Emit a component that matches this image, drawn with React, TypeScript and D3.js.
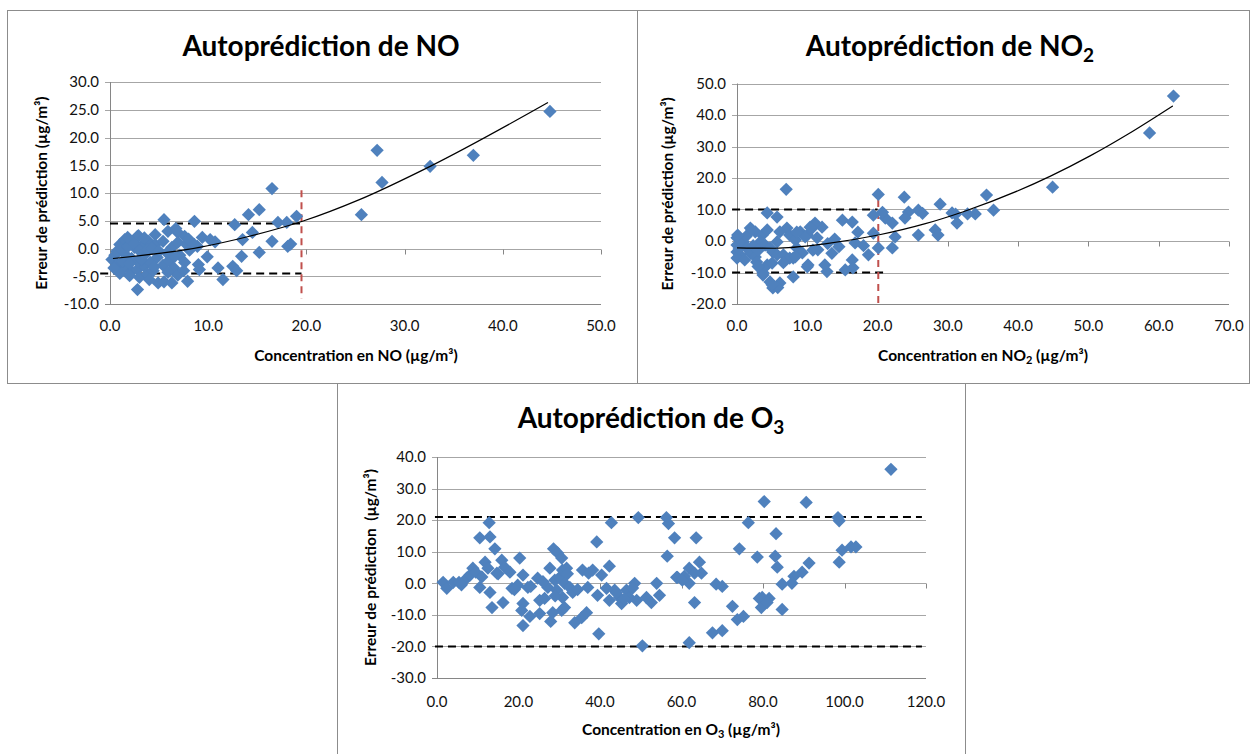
import React from "react";
import * as d3 from "d3";

// ---------- DATA ----------
const noPoints: [number, number][] = [
  [0.2, -2.0], [0.5, -1.2], [0.7, -0.5], [1.0, 0.7], [1.5, 1.6], [2.0, 0.7], [2.5, 0.2], [3.3, 0.7], [3.9, 1.3],
  [2.8, 2.2], [4.6, 2.5], [5.9, 3.1], [6.9, 2.9], [5.5, 5.2], [8.6, 4.9], [4.6, 0.7], [5.4, 1.3], [6.3, 0.2],
  [6.9, 1.1], [7.8, 0.7], [8.3, 0.2], [8.9, 0.4], [0.8, -2.9], [1.5, -3.4], [2.2, -4.1], [2.8, -3.8], [3.5, -3.2],
  [1.5, -1.0], [2.2, -1.8], [2.8, -2.3], [3.6, -1.0], [4.1, -2.5], [4.8, -1.6], [5.4, -3.0], [6.0, -2.2],
  [2.8, -7.4], [4.9, -6.2], [5.5, -6.0], [6.3, -6.2], [7.9, -5.9], [1.0, -4.5], [2.0, -4.9], [3.0, -5.2],
  [3.8, -4.6], [4.4, -4.0], [6.5, -3.5], [7.1, -1.2], [7.6, -2.5], [8.1, -0.3], [9.0, -2.9], [9.1, -3.8],
  [9.9, -1.5], [1.2, -0.2], [1.8, 0.3], [2.4, 1.0], [3.0, -0.4], [3.8, -0.2], [4.3, 0.0], [5.0, -0.5],
  [5.8, -0.8], [6.6, -1.4], [1.3, -2.3], [2.0, -2.7], [3.2, -2.0], [4.5, -3.3], [5.9, -4.3], [6.9, -4.8],
  [7.5, -4.0], [2.9, 2.3], [3.5, 1.9], [6.7, 3.6], [7.6, 2.2], [8.0, 1.7], [9.4, 2.0], [8.6, 0.7], [10.7, 1.2],
  [11.0, -3.5], [11.5, -5.6], [12.5, -3.2], [13.4, -1.4], [13.5, 1.6], [14.5, 2.9], [14.1, 6.1], [15.2, 7.0],
  [16.5, 10.8], [12.7, 4.3], [17.1, 4.7], [18.0, 4.7], [19.0, 5.8], [16.5, 1.3], [18.1, 0.4], [15.2, -0.7],
  [18.4, 0.8], [12.9, -4.0], [10.2, 1.6], [4.0, -5.6], [1.8, 2.0], [0.4, -3.5],
  [25.6, 6.1], [27.2, 17.7], [27.7, 11.9], [32.6, 14.8], [37.0, 16.8], [44.8, 24.7],
];

const noTrend: [number, number][] = [
  [0.3, -1.8], [9.1, 0.2], [14.2, 2.2], [19.6, 4.9], [25.4, 8.8], [32.6, 14.8], [44.6, 26.3],
];

const no2Points: [number, number][] = [
  [4.3, 8.9], [5.7, 7.6], [1.9, 4.1], [2.6, 2.9], [3.6, 1.9], [4.3, 3.5], [0, 1.0], [0, -1.3], [0, -3.5],
  [0.4, -4.4], [0, -5.4], [0.9, -0.3], [1.4, -2.2], [1.9, -3.8], [2.6, -5.1], [1.1, -6.0], [3.3, -0.3],
  [4.0, -1.3], [4.7, -2.2], [5.1, -3.5], [5.7, -4.4], [2.8, -6.7], [4.3, -7.6], [5.0, -7.0], [7.1, 4.1],
  [7.5, 1.9], [8.3, 0.3], [9.0, 2.9], [8.5, -2.2], [9.3, -3.8], [8.0, -5.4], [10.0, 1.9], [10.7, 4.1],
  [11.4, 1.0], [10.8, -2.9], [10.1, -7.6], [5.7, -0.3], [6.1, 2.9], [6.6, -4.4], [7.5, -5.4], [3.7, -10.8],
  [4.7, -13.0], [5.1, -14.9], [6.1, -13.3], [8.0, -11.4], [0.3, -2.5], [0.6, 0.3], [1.3, 1.5], [2.3, -1.5],
  [3.0, -3.0], [13.9, 0.6], [14.5, -1.8], [12.9, -0.8], [18.0, -1.5],
  [7.0, 16.4], [20.1, 14.8], [23.8, 13.9], [28.9, 11.7], [31.1, 8.5], [25.8, 9.8], [26.4, 8.8], [24.4, 9.2],
  [23.9, 7.3], [25.8, 1.9], [28.2, 3.5], [28.6, 1.9], [22.1, 5.7], [21.1, 7.3], [20.7, 9.1], [19.4, 8.2],
  [22.1, -2.2], [20.1, -2.2], [18.7, -4.4], [19.4, 2.5], [22.5, 1.3], [16.8, -0.6], [15.0, 6.6], [16.4, 6.0],
  [17.2, 2.8], [16.4, -6.0], [16.5, -8.5], [15.4, -9.2], [12.8, -9.7], [12.5, -7.6], [13.5, -3.9], [11.5, -2.8],
  [12.1, 4.4], [11.1, 5.7], [10.4, 4.4], [9.7, 1.3], [8.5, 2.8], [10.0, -8.2], [8.3, -5.0], [5.8, -14.8],
  [5.0, -13.9], [3.7, -10.1], [2.1, 3.5], [0.1, 1.9], [6.6, -6.9], [3.0, -8.1],
  [62.1, 46.0], [58.7, 34.3], [44.9, 17.1], [35.5, 14.6], [36.5, 9.8], [33.9, 8.6], [32.8, 8.6], [31.3, 5.7],
  [30.6, 8.9],
];

const no2Trend: [number, number][] = [
  [0, -2.2], [5.4, -2.3], [12.5, -0.9], [20.1, 1.9], [26.8, 5.5], [32.2, 9.3], [44.6, 20.6], [50.3, 27.1],
  [55.6, 33.9], [62.0, 42.9],
];

const o3Points: [number, number][] = [
  [1.5, 0.3], [2.4, -1.6], [4.0, 0.3], [5.4, 0.3], [7.3, 1.6], [8.1, 2.6], [8.8, 4.8], [10.5, 14.4],
  [12.8, 19.2], [13.0, 14.7], [14.2, 10.9], [11.8, 6.7], [12.5, 4.8], [13.5, -7.7], [13.0, -2.9], [10.5, -1.3],
  [14.7, 3.2], [15.9, 7.3], [16.6, 5.1], [17.9, 3.5], [16.2, -6.1], [18.4, -1.6], [20.3, 8.0], [19.8, -0.6],
  [21.1, 2.6], [21.1, -6.4], [20.8, -8.6], [22.8, -10.5], [21.1, -13.4], [22.3, -1.3], [24.7, 1.6], [25.2, -9.6],
  [25.2, -5.4], [27.7, 4.8], [27.9, -12.1], [26.4, -4.8], [27.2, -1.3], [28.6, 10.9], [29.6, 9.6], [30.6, 8.0],
  [28.9, 1.0], [30.1, 1.9], [30.8, 4.2], [31.8, 4.8], [31.3, 0], [30.8, -4.5], [30.6, -8.6], [31.3, -7.7],
  [28.4, -9.3], [29.4, -2.2], [32.6, -1.3], [33.3, -2.9], [33.8, -12.5], [35.5, -10.9], [36.7, -9.3],
  [35.7, 4.2], [37.2, 3.2], [37.0, -1.3], [38.2, 4.2], [39.2, 13.1], [40.4, 2.6], [39.7, -16.0], [39.4, -3.8],
  [42.3, 5.4], [42.8, 19.2], [41.6, -1.6], [42.3, -5.4], [43.6, -2.2], [44.8, -4.5], [45.3, -6.4], [46.5, -2.2],
  [47.2, -4.5], [48.5, 0], [49.0, -5.4], [49.4, 20.8], [50.4, -19.8], [51.4, -4.5], [52.6, -6.1], [53.9, 0],
  [54.6, -3.8], [56.3, 20.8], [56.8, 18.9], [58.3, 14.4], [56.5, 8.6], [58.8, 1.9],
  [111.4, 36.1], [80.3, 25.9], [90.6, 25.6], [98.4, 20.8], [98.7, 19.8], [76.4, 19.2], [83.2, 15.7],
  [74.2, 10.9], [63.6, 14.4], [78.6, 8.3], [83.0, 8.6], [83.5, 5.1], [91.3, 6.4], [89.6, 3.5], [87.6, 2.2],
  [87.1, 0], [84.7, -0.3], [99.4, 10.5], [98.7, 6.7], [101.6, 11.5], [102.8, 11.5], [61.9, 4.8], [64.4, 6.7],
  [64.9, 3.2], [63.2, 3.2], [60.7, 2.2], [59.0, 1.9], [61.9, 0], [60.2, 1.0], [68.5, -0.3], [70.0, -1.0],
  [63.2, -6.1], [72.5, -7.3], [61.9, -18.8], [67.6, -15.7], [70.0, -15.0], [73.7, -11.5], [75.2, -10.5],
  [79.1, -4.8], [79.8, -4.5], [81.5, -4.8], [79.6, -7.7], [81.0, -6.1], [84.7, -8.3],
  [6.0, -0.5], [9.5, 3.5], [11.0, 2.0], [15.0, 3.0], [19.0, -2.0], [23.0, -1.0], [26.0, 0.5], [29.0, -4.0],
  [32.0, 3.0], [34.5, -2.0], [44.0, -3.0], [46.0, -5.0], [48.0, -1.5],
];

const noXTicks = [0, 10, 20, 30, 40, 50];
const noYTicks = [-10, -5, 0, 5, 10, 15, 20, 25, 30];
const no2XTicks = [0, 10, 20, 30, 40, 50, 60, 70];
const no2YTicks = [-20, -10, 0, 10, 20, 30, 40, 50];
const o3XTicks = [0, 20, 40, 60, 80, 100, 120];
const o3YTicks = [-30, -20, -10, 0, 10, 20, 30, 40];

// reference lines: [y, xStart, xEnd]
const noLimits: [number, number, number][] = [[4.5, 0, 19.5], [-4.5, -1, 19.5]];
const no2Limits: [number, number, number][] = [[10, -0.7, 20], [-10, -0.7, 21.2]];
const o3Limits: [number, number, number][] = [[21, -0.5, 119], [-20, -0.5, 119]];
// red vertical: [x, yTop, yBottom]
const noThreshold: [number, number, number] = [19.5, 10.5, -9];
const no2Threshold: [number, number, number] = [20.1, 13, -20.3];

// ---------- STYLE ----------
const FONT = "Lato, 'Open Sans', sans-serif";
const BLUE = "#4F81BD";
const GRID = "#A6A6A6";
const AXIS = "#868686";
const fmt = (v: number) => v.toFixed(1);

type PanelProps = {
  left: number; right: number; top: number; bottom: number;
  xDomain: [number, number]; yDomain: [number, number];
  xTicks: number[]; yTicks: number[];
  points: [number, number][];
  trend?: [number, number][];
  limits: [number, number, number][];
  threshold?: [number, number, number];
  title: React.ReactNode; titleX: number; titleY: number;
  xTitle: React.ReactNode; xTitleX: number; xTitleY: number; xLabelY: number;
  yTitle: string; yTitleX: number;
};

function Panel(p: PanelProps) {
  const x = d3.scaleLinear().domain(p.xDomain).range([p.left, p.right]);
  const y = d3.scaleLinear().domain(p.yDomain).range([p.bottom, p.top]);
  const diamond = d3.symbol(d3.symbolSquare, 88)();
  const line = d3.line<[number, number]>().x((d) => x(d[0])).y((d) => y(d[1])).curve(d3.curveMonotoneX);
  const y0 = Math.round(y(0)) + 0.5;
  return (
    <g fontFamily={FONT}>
      {p.yTicks.map((t) => (
        <g key={"g" + t}>
          <line x1={p.left - 5} x2={p.right} y1={Math.round(y(t)) + 0.5} y2={Math.round(y(t)) + 0.5}
            stroke={t === p.yDomain[0] ? AXIS : GRID} strokeWidth={1} />
          <text x={p.left - 11} y={y(t)} dy="0.35em" textAnchor="end" fontSize={15} fill="#111">{fmt(t)}</text>
        </g>
      ))}
      <line x1={p.left + 0.5} x2={p.left + 0.5} y1={p.top} y2={p.bottom} stroke={AXIS} />
      {p.xTicks.map((t) => (
        <g key={"x" + t}>
          <line x1={Math.round(x(t)) + 0.5} x2={Math.round(x(t)) + 0.5} y1={y0} y2={y0 + 5} stroke={AXIS} />
          <text x={x(t)} y={p.xLabelY} textAnchor="middle" fontSize={15} fill="#111">{fmt(t)}</text>
        </g>
      ))}
      {p.limits.map((l, i) => (
        <line key={"l" + i} x1={x(l[1])} x2={x(l[2])} y1={y(l[0])} y2={y(l[0])}
          stroke="#000" strokeWidth={2} strokeDasharray="8,5" />
      ))}
      {p.threshold && (
        <line x1={x(p.threshold[0])} x2={x(p.threshold[0])} y1={y(p.threshold[1])} y2={y(p.threshold[2])}
          stroke="#C0504D" strokeWidth={2} strokeDasharray="7,5" />
      )}
      {p.points.map((d, i) => (
        <path key={"p" + i} d={diamond!} fill={BLUE}
          transform={`translate(${x(d[0])},${y(d[1])}) rotate(45)`} />
      ))}
      {p.trend && <path d={line(p.trend)!} fill="none" stroke="#000" strokeWidth={1.2} />}
      <text x={p.titleX} y={p.titleY} textAnchor="middle" fontSize={28} fontWeight="bold" fill="#000">{p.title}</text>
      <text x={p.xTitleX} y={p.xTitleY} textAnchor="middle" fontSize={15.5} fontWeight="bold" fill="#000">{p.xTitle}</text>
      <text transform={`translate(${p.yTitleX},${(p.top + p.bottom) / 2}) rotate(-90)`} textAnchor="middle"
        dy="0.35em" fontSize={15.5} fontWeight="bold" fill="#000" style={{ whiteSpace: "pre" }}>{p.yTitle}</text>
    </g>
  );
}

export default function App() {
  return (
    <div style={{ position: "absolute", left: 0, top: 0 }}>
      <svg width={1251} height={754} style={{ display: "block", background: "#fff" }}>
        <rect x={0} y={0} width={1251} height={754} fill="#fff" />
        <rect x={7.5} y={10.5} width={630} height={373} fill="none" stroke="#8C8C8C" />
        <rect x={637.5} y={10.5} width={612} height={373} fill="none" stroke="#8C8C8C" />
        <rect x={337.5} y={383.5} width={628} height={380} fill="none" stroke="#8C8C8C" />
        <Panel left={110} right={601} top={82} bottom={304} xDomain={[0, 50]} yDomain={[-10, 30]}
          xTicks={noXTicks} yTicks={noYTicks} points={noPoints} trend={noTrend} limits={noLimits}
          threshold={noThreshold}
          title="Autoprédiction de NO" titleX={321} titleY={56}
          xTitle="Concentration en NO (µg/m³)" xTitleX={356} xTitleY={361} xLabelY={331}
          yTitle="Erreur de prédiction (µg/m³)" yTitleX={42} />
        <Panel left={737} right={1229} top={83.5} bottom={304} xDomain={[0, 70]} yDomain={[-20, 50]}
          xTicks={no2XTicks} yTicks={no2YTicks} points={no2Points} trend={no2Trend} limits={no2Limits}
          threshold={no2Threshold}
          title={<>Autoprédiction de NO<tspan fontSize={19} dy={6}>2</tspan></>} titleX={950} titleY={56}
          xTitle={<>Concentration en NO<tspan fontSize={11} dy={3}>2</tspan><tspan dy={-3}> (µg/m³)</tspan></>}
          xTitleX={983} xTitleY={361} xLabelY={331}
          yTitle="Erreur de prédiction (µg/m³)" yTitleX={668} />
        <Panel left={437} right={926} top={457} bottom={678} xDomain={[0, 120]} yDomain={[-30, 40]}
          xTicks={o3XTicks} yTicks={o3YTicks} points={o3Points} limits={o3Limits}
          title={<>Autoprédiction de O<tspan fontSize={19} dy={6}>3</tspan></>} titleX={651} titleY={428}
          xTitle={<>Concentration en O<tspan fontSize={11} dy={3}>3</tspan><tspan dy={-3}> (µg/m³)</tspan></>}
          xTitleX={681} xTitleY={735} xLabelY={707}
          yTitle="Erreur de prédiction  (µg/m³)" yTitleX={371} />
      </svg>
    </div>
  );
}
